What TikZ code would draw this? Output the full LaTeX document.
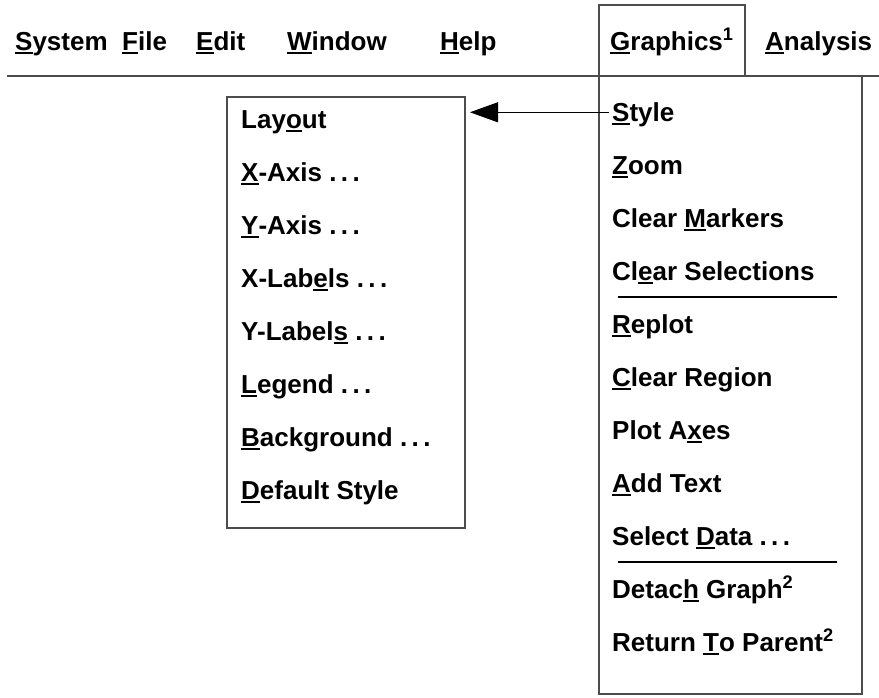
\documentclass[tikz,border=0pt]{standalone}
\usepackage{fontspec}
\setmainfont{Liberation Sans}
\usetikzlibrary{arrows.meta}
\newcommand{\hk}[1]{\setbox0\hbox{#1}\rlap{\rule[-3.5pt]{\wd0}{1.8pt}}\box0\relax}
\newcommand{\fn}[1]{\textsuperscript{#1}}
\newcommand{\ddd}{.\hspace{.17em}.\hspace{.17em}.}

\tikzset{
	item/.style={anchor=base west, inner sep=0pt, font=\bfseries\fontsize{26}{30}\selectfont},
	frame/.style={draw=black!70, line width=1.5pt},
	sep/.style={draw, line width=2.5pt}
}

\begin{document}
\begin{tikzpicture}[x=1pt,y=-1pt]
	\useasboundingbox (0,0) rectangle (879,697);
	% menu bar
	\foreach \name/\x/\txt in {sys/15/\hk{S}ystem, file/122/\hk{F}ile, edit/196/\hk{E}dit,
		win/287/\hk{W}indow, help/440/\hk{H}elp, graph/610/\hk{G}raphics\fn{1}, ana/765/\hk{A}nalysis} {
		\node[item] (\name) at (\x,50) {\txt};
	}
	\draw[frame] (7,76) -- (879,76);
	\draw[frame] (599,76) -- (599,5) -- (745,5) -- (745,76);
	% graphics menu
	\draw[frame] (599,76) -- (599,694) -- (862,694) -- (862,76);
	\foreach \txt [count=\i] in {\hk{S}tyle, \hk{Z}oom, Clear \hk{M}arkers, Cl\hk{e}ar Selections,
		\hk{R}eplot, \hk{C}lear Region, Plot A\hk{x}es, \hk{A}dd Text, Select \hk{D}ata \ddd,
		Detac\hk{h} Graph\fn{2}, Return \hk{T}o Parent\fn{2}} {
		\node[item] (gr\i) at (612,68+53*\i) {\txt};
	}
	\draw[sep] (618,297) -- (837,297);
	\draw[sep] (618,562) -- (837,562);
	% style submenu
	\draw[frame] (227,97) rectangle (465,528);
	\coordinate (subne) at (465,97);
	\foreach \txt [count=\i] in {Lay\hk{o}ut, \hk{X}-Axis \ddd, \hk{Y}-Axis \ddd, X-Lab\hk{e}ls \ddd,
		Y-Label\hk{s} \ddd, \hk{L}egend \ddd, \hk{B}ackground \ddd, \hk{D}efault Style} {
		\node[item] (sub\i) at (241,75+53*\i) {\txt};
	}
	\draw[line width=1pt, -{Triangle[length=28pt,width=20pt]}, shorten >=5pt]
		([xshift=-3pt,yshift=2pt]gr1.west) -- ([yshift=2pt]subne |- gr1.west);
\end{tikzpicture}
\end{document}
